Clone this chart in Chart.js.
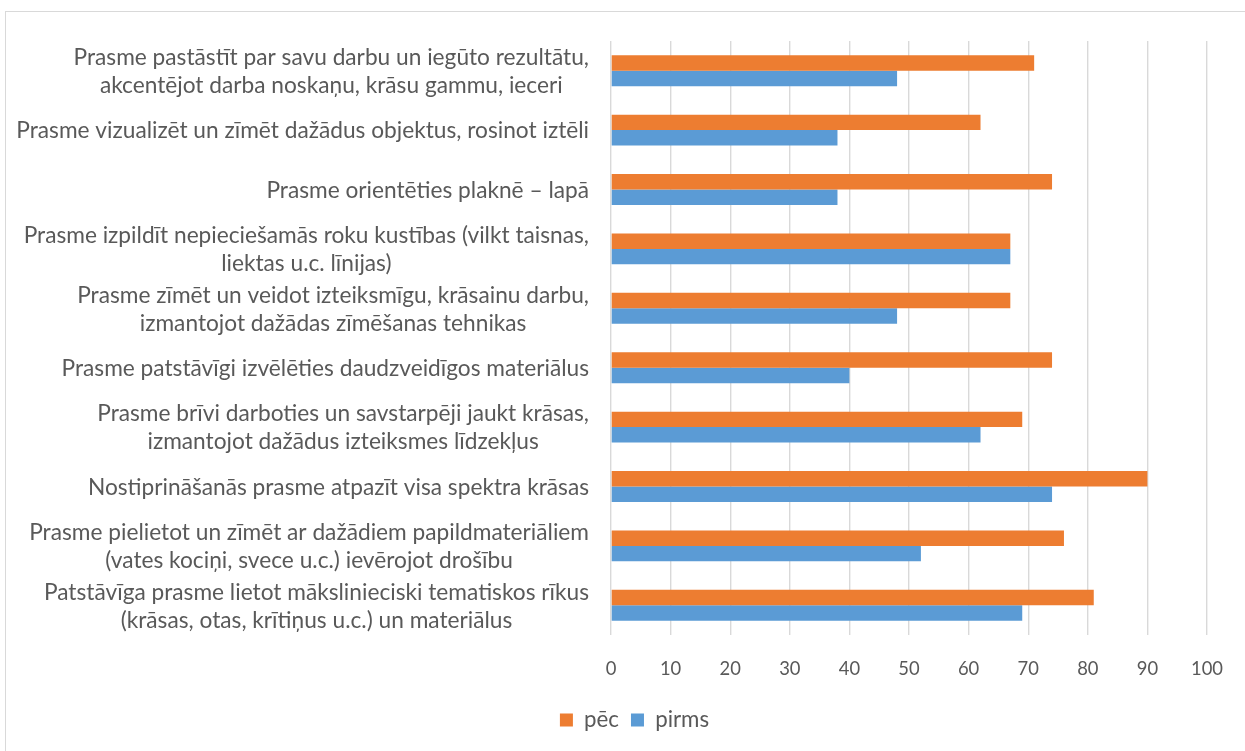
<!DOCTYPE html>
<html><head><meta charset="utf-8">
<script src="https://cdn.jsdelivr.net/npm/chart.js@4.4.0/dist/chart.umd.min.js"></script>
<style>
html,body{margin:0;padding:0;background:#fff;overflow:hidden;width:1245px;height:751px}
#frame{position:absolute;left:5px;top:11px;width:1300px;height:800px;border:1px solid #d9d9d9;box-sizing:border-box}
canvas{position:absolute;left:0;top:0}
</style></head>
<body><div id="frame"></div><canvas id="c" width="1245" height="751"></canvas>
<script>
const categories = [
  ["Prasme pastāstīt par savu darbu un iegūto rezultātu,", "akcentējot darba noskaņu, krāsu gammu, ieceri"],
  ["Prasme vizualizēt un zīmēt dažādus objektus, rosinot iztēli"],
  ["Prasme orientēties plaknē – lapā"],
  ["Prasme izpildīt nepieciešamās roku kustības (vilkt taisnas,", "liektas u.c. līnijas)"],
  ["Prasme zīmēt un veidot izteiksmīgu, krāsainu darbu,", "izmantojot dažādas zīmēšanas tehnikas"],
  ["Prasme patstāvīgi izvēlēties daudzveidīgos materiālus"],
  ["Prasme brīvi darboties un savstarpēji jaukt krāsas,", "izmantojot dažādus izteiksmes līdzekļus"],
  ["Nostiprināšanās prasme atpazīt visa spektra krāsas"],
  ["Prasme pielietot un zīmēt ar dažādiem papildmateriāliem", "(vates kociņi, svece u.c.) ievērojot drošību"],
  ["Patstāvīga prasme lietot mākslinieciski tematiskos rīkus", "(krāsas, otas, krītiņus u.c.) un materiālus"]
];
const seriesNames = ["pēc", "pirms"];
const pecValues   = [71, 62, 74, 67, 67, 74, 69, 90, 76, 81];
const pirmsValues = [48, 38, 38, 67, 48, 40, 62, 74, 52, 69];
const xTicks = [0, 10, 20, 30, 40, 50, 60, 70, 80, 90, 100];

const FONT = 'Lato, "Open Sans", sans-serif';
const TEXT = '#595959';
// font sizes chosen so text widths match the reference
const mc = document.createElement('canvas').getContext('2d');
mc.font = '100px ' + FONT;
const fit = (s, w) => Math.round(w / mc.measureText(s).width * 100 * 10) / 10;
const FS  = fit(categories[1][0], 574);  // category labels
const TFS = fit('100', 32);              // tick labels
const LFS = fit('pirms', 54);            // legend labels

const labelPlugin = {
  id: 'catLabels',
  afterDraw(chart) {
    const ctx = chart.ctx, ys = chart.scales.y;
    ctx.save();
    ctx.font = FS + 'px ' + FONT;
    ctx.fillStyle = TEXT;
    ctx.textAlign = 'center';
    ctx.textBaseline = 'middle';
    const right = ys.right - 22;
    categories.forEach((lines, i) => {
      const y = ys.getPixelForValue(i);
      const w = Math.max(...lines.map(l => ctx.measureText(l).width));
      const cx = right - w / 2;
      lines.forEach((l, j) => {
        ctx.fillText(l, cx, y + 1 + (j - (lines.length - 1) / 2) * 28);
      });
    });
    ctx.restore();
  }
};

const legendTop = 720 - 12 - LFS / 2;
const legendH = LFS + 12 + 10;

new Chart(document.getElementById('c'), {
  type: 'bar',
  data: {
    labels: categories,
    datasets: [
      { label: seriesNames[0], data: pecValues, backgroundColor: '#ED7D31', borderWidth: 0 },
      { label: seriesNames[1], data: pirmsValues, backgroundColor: '#5B9BD5', borderWidth: 0 }
    ]
  },
  options: {
    indexAxis: 'y',
    responsive: false,
    animation: false,
    devicePixelRatio: 1,
    layout: { padding: { top: 41, right: 38, left: 62, bottom: 751 - legendTop - legendH } },
    datasets: { bar: { categoryPercentage: 0.52, barPercentage: 1 } },
    scales: {
      x: {
        min: 0, max: 100,
        afterBuildTicks(s) { s.ticks = xTicks.map(v => ({ value: v })); },
        afterFit(s) { s.height = legendTop - 635; s.paddingLeft = 0; s.paddingRight = 0; },
        grid: { color: '#d9d9d9', lineWidth: 1.4, drawTicks: false },
        border: { display: false },
        ticks: { color: TEXT, font: { family: FONT, size: TFS }, padding: 23 }
      },
      y: {
        afterFit(s) { s.width = 549; },
        grid: { display: false },
        border: { display: false },
        ticks: { display: false }
      }
    },
    plugins: {
      legend: {
        position: 'bottom',
        labels: { color: TEXT, font: { family: FONT, size: LFS }, boxWidth: 13, boxHeight: 13, padding: 12 }
      },
      tooltip: { enabled: false }
    }
  },
  plugins: [labelPlugin]
});
</script>
</body></html>
